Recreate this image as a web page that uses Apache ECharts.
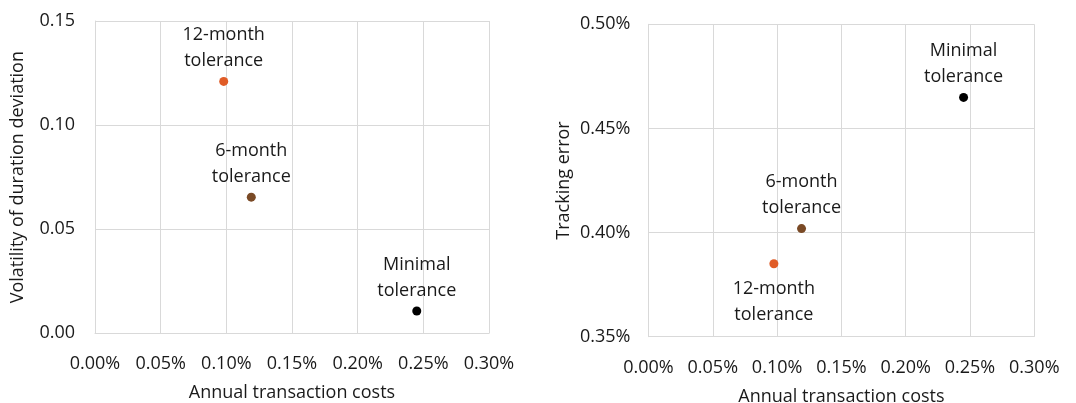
<!DOCTYPE html>
<html>
<head>
<meta charset="utf-8">
<script src="https://cdn.jsdelivr.net/npm/echarts@6/dist/echarts.min.js"></script>
<style>
html,body{margin:0;padding:0;background:#fff;}
#c{width:1076px;height:403px;}
</style>
</head>
<body>
<div id="c"></div>
<script>
// Data (x = annual transaction costs in %, y per chart)
const names = ['12-month\ntolerance', '6-month\ntolerance', 'Minimal\ntolerance'];
const colors = ['#e05c27', '#7a4a26', '#000000'];
const costsLeft = [0.098, 0.119, 0.245];
const durationVol = [0.121, 0.0654, 0.0107];
const costsRight = [0.0975, 0.119, 0.245];
const trackingError = [0.385, 0.4019, 0.4649];
const rightLabelPos = ['bottom', 'top', 'top'];

const xTicksFmt = v => v.toFixed(2) + '%';
const FONT = '"Open Sans", "Noto Sans", sans-serif';
const FS = 18;
const TXT = '#1a1a1a';
const GRID = '#d9d9d9';

function xAxis(gridIndex) {
  return {
    gridIndex, type: 'value', min: 0, max: 0.3, interval: 0.05,
    name: 'Annual transaction costs', nameLocation: 'middle', nameGap: 51,
    nameTextStyle: {fontFamily: FONT, fontSize: FS, color: TXT},
    axisLine: {show: true, lineStyle: {color: GRID}},
    axisTick: {show: false},
    splitLine: {show: true, lineStyle: {color: GRID, width: 1}},
    axisLabel: {formatter: xTicksFmt, fontFamily: FONT, fontSize: FS, color: TXT, margin: 22}
  };
}

function pts(xs, ys, posArr) {
  return xs.map((x, i) => ({
    value: [x, ys[i]],
    itemStyle: {color: colors[i], opacity: 1},
    label: {
      show: true,
      formatter: names[i],
      position: posArr ? posArr[i] : 'top',
      distance: (posArr && posArr[i] === 'bottom') ? 8 : 3,
      fontFamily: FONT, fontSize: FS, color: TXT, lineHeight: 26, align: 'center'
    }
  }));
}

const chart = echarts.init(document.getElementById('c'), null, {renderer: 'canvas'});
chart.setOption({
  animation: false,
  backgroundColor: '#fff',
  grid: [
    {left: 95, right: 587, top: 21, bottom: 69.7, containLabel: false, outerBoundsMode: 'none'},
    {left: 648.5, right: 41.7, top: 24.3, bottom: 66.3, containLabel: false, outerBoundsMode: 'none'}
  ],
  xAxis: [xAxis(0), xAxis(1)],
  yAxis: [
    {
      gridIndex: 0, type: 'value', min: 0, max: 0.15, interval: 0.05,
      name: 'Volatility of duration deviation', nameLocation: 'middle', nameGap: 68,
      nameTextStyle: {fontFamily: FONT, fontSize: FS, color: TXT},
      axisLine: {show: true, lineStyle: {color: GRID}},
      axisTick: {show: false},
      splitLine: {show: true, lineStyle: {color: GRID}},
      axisLabel: {formatter: v => v.toFixed(2), fontFamily: FONT, fontSize: FS, color: TXT, margin: 20}
    },
    {
      gridIndex: 1, type: 'value', min: 0.35, max: 0.5, interval: 0.05,
      name: 'Tracking error', nameLocation: 'middle', nameGap: 76,
      nameTextStyle: {fontFamily: FONT, fontSize: FS, color: TXT},
      axisLine: {show: true, lineStyle: {color: GRID}},
      axisTick: {show: false},
      splitLine: {show: true, lineStyle: {color: GRID}},
      axisLabel: {formatter: v => v.toFixed(2) + '%', fontFamily: FONT, fontSize: FS, color: TXT, margin: 18}
    }
  ],
  series: [
    {type: 'scatter', xAxisIndex: 0, yAxisIndex: 0, symbolSize: 9, itemStyle: {opacity: 1}, data: pts(costsLeft, durationVol, null)},
    {type: 'scatter', xAxisIndex: 1, yAxisIndex: 1, symbolSize: 9, itemStyle: {opacity: 1}, data: pts(costsRight, trackingError, rightLabelPos)}
  ]
});
</script>
</body>
</html>
